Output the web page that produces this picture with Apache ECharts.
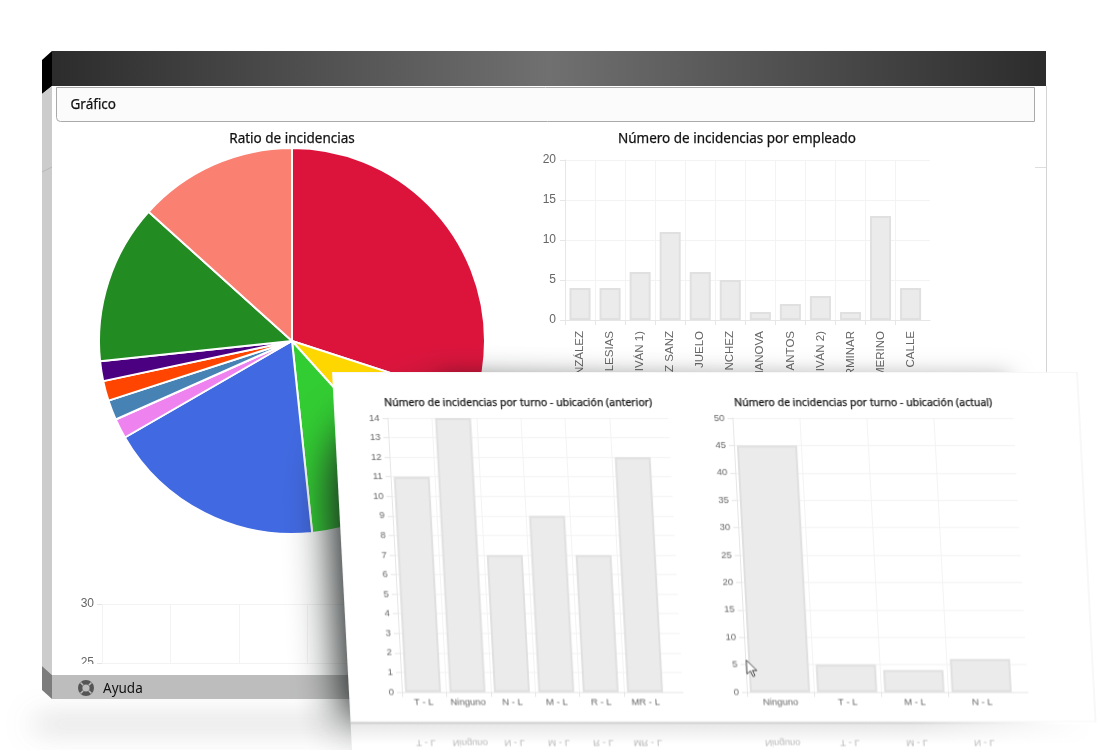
<!DOCTYPE html>
<html><head><meta charset="utf-8">
<script src="https://cdn.jsdelivr.net/npm/echarts@6/dist/echarts.min.js"></script>
<style>
html,body{margin:0;padding:0;background:#fff;overflow:hidden}
#base{position:absolute;left:0;top:0;width:1100px;height:750px}
#panel{position:absolute;left:332px;top:372px;width:768px;height:378px;transform-origin:0 0;transform:skewX(3.03deg)}
</style></head><body>
<div id="base"></div><div id="panel"></div>
<script>
const pieValues = [18, 5, 6, 11, 1, 1, 1, 1, 8, 8];
const pieColors = ['#DC143C','#FFD700','#32CD32','#4169E1','#EE82EE','#4682B4','#FF4500','#4B0082','#228B22','#FA8072'];
const empleados = ['NZÁLEZ','LESIAS','IVÁN 1)','Z SANZ','JUELO','NCHEZ','MANOVA','ANTOS','IVÁN 2)','RMINAR','MERINO','CALLE'];
const empleadoValues = [4, 4, 6, 11, 6, 5, 1, 2, 3, 1, 13, 4];
const anteriorCats = ['T - L','Ninguno','N - L','M - L','R - L','MR - L'];
const anteriorValues = [11, 14, 7, 9, 7, 12];
const actualCats = ['Ninguno','T - L','M - L','N - L'];
const actualValues = [45, 5, 4, 6];
const FONT = '"Noto Sans"', TICKFONT = '"Liberation Sans"';
const GRID = '#f3f3f3', LINE = '#e6e6e6', TICKTXT = '#666';
const heavy = {textBorderColor:'#222', textBorderWidth:0.25};

function addBars(opt, c) {
  const n = c.cats.length, cw = c.catW, fw = cw * n, i = opt.grid.length;
  opt.grid.push({left:c.left, top:c.top, width:c.backW, height:c.height, containLabel:false});
  opt.grid.push({left:c.left - (c.shift||0), top:c.top, width:fw, height:c.height, containLabel:false});
  opt.xAxis.push({gridIndex:i, type:'value', min:0, max:c.backW/cw, silent:true,
    axisLine:{show:true, onZero:false, lineStyle:{color:LINE}},
    axisTick:{show:true, length:5, lineStyle:{color:LINE}, customValues:Array.from({length:n},(_, k)=>k)},
    axisLabel:{show:false}, splitLine:{show:true, lineStyle:{color:GRID}}});
  opt.yAxis.push({gridIndex:i, type:'value', min:0, max:c.max, interval:c.interval, silent:true,
    axisLine:{show:true, lineStyle:{color:LINE}},
    axisTick:{show:true, length:5, lineStyle:{color:LINE}},
    axisLabel:{show:true, color:TICKTXT, fontFamily:TICKFONT, fontSize:c.yfs||c.fs, margin:c.ymargin||8},
    splitLine:{show:true, lineStyle:{color:GRID}}});
  opt.xAxis.push({gridIndex:i+1, type:'category', data:c.cats, silent:true,
    axisLine:{show:false}, axisTick:{show:false}, splitLine:{show:false},
    axisLabel:{show:true, interval:0, color:TICKTXT, fontFamily:TICKFONT, fontSize:c.fs, margin:c.margin, rotate:c.rotate||0}});
  opt.yAxis.push({gridIndex:i+1, type:'value', min:0, max:c.max, show:false});
  opt.series.push({type:'bar', xAxisIndex:i+1, yAxisIndex:i+1, data:c.vals, barWidth:cw-c.gap, z:3, silent:true, clip:false,
    itemStyle:{color:'#ebebeb', borderColor:'#e0e0e0', borderWidth:2}});
  return i+1;
}

/* ---------- base window ---------- */
const baseOpt = {animation:false, grid:[], xAxis:[], yAxis:[], series:[], title:[
  {text:'Ratio de incidencias', left:287, top:127.5, textAlign:'center',
   textStyle:{fontFamily:FONT, fontSize:13.5, fontWeight:'normal', color:'#111', ...heavy}},
  {text:'Número de incidencias por empleado', left:732, top:127.5, textAlign:'center',
   textStyle:{fontFamily:FONT, fontSize:13.5, fontWeight:'normal', color:'#111', ...heavy}}
]};
baseOpt.series.push({type:'pie', center:[292,341], radius:[0,193], startAngle:90, clockwise:true, silent:true,
  label:{show:false}, labelLine:{show:false}, z:2,
  itemStyle:{borderColor:'#fff', borderWidth:2},
  data:pieValues.map((v,i)=>({value:v, itemStyle:{color:pieColors[i]}}))});
addBars(baseOpt, {left:565, top:160, height:160, catW:30.05, backW:365, cats:empleados, vals:empleadoValues,
  max:20, interval:5, fs:11.5, yfs:12, ymargin:9, margin:11, rotate:90, gap:9});
/* partially visible lower chart */
{
  const i = baseOpt.grid.length;
  baseOpt.grid.push({left:102, top:604, width:280, height:59});
  baseOpt.xAxis.push({gridIndex:i, type:'value', min:0, max:280/68.5, silent:true,
    axisLine:{show:false}, axisTick:{show:false, customValues:[0,1,2,3,4]}, axisLabel:{show:false},
    splitLine:{show:true, lineStyle:{color:GRID}}});
  baseOpt.yAxis.push({gridIndex:i, type:'value', min:25, max:30, interval:5, silent:true,
    axisLine:{show:false}, axisTick:{show:true, length:5, lineStyle:{color:LINE}},
    axisLabel:{color:TICKTXT, fontFamily:TICKFONT, fontSize:12, margin:8},
    splitLine:{show:true, lineStyle:{color:GRID}}});
}
/* outline of the panel's cast shadow; drawn off-canvas so only the shadow lands on the page */
const OFF = 1500;
const leftShadow = [[440,395],[345,430],[330,480],[336,600],[344,722],[1000,722],[1000,420]].map(p => [p[0], p[1]-OFF]);
baseOpt.graphic = {elements:[
  {type:'rect', z:-20, shape:{x:52,y:86,width:994,height:589}, style:{fill:'#fff'}},
  {type:'rect', z:-30, shape:{x:35,y:-1000,width:310,height:6}, style:{fill:'#888', shadowBlur:28, shadowOffsetY:1721, shadowColor:'rgba(100,100,100,.6)'}},
  /* header */
  {type:'rect', z:-10, shape:{x:52,y:51,width:994,height:35}, style:{fill:new echarts.graphic.LinearGradient(0,0,1,0,[
    {offset:0,color:'#2c2c2c'},{offset:.5,color:'#707070'},{offset:1,color:'#2c2c2c'}])}},
  {type:'polygon', z:-10, shape:{points:[[42,60],[52,51],[52,86],[42,94]]}, style:{fill:'#000'}},
  {type:'polygon', z:-10, shape:{points:[[42,94],[52,86],[52,675],[42,666]]}, style:{fill:'#cccccc'}},
  {type:'line', z:-9, shape:{x1:42,y1:172,x2:52,y2:167}, style:{stroke:'#b8b8b8',lineWidth:1}},
  {type:'polygon', z:-10, shape:{points:[[42,666],[52,675],[52,699],[42,690]]}, style:{fill:'#7c7c7c'}},
  /* right edge */
  {type:'line', z:-9, shape:{x1:1046.5,y1:86,x2:1046.5,y2:372}, style:{stroke:'#d4d4d4',lineWidth:1}},
  {type:'line', z:-9, shape:{x1:1035,y1:167.5,x2:1046,y2:167.5}, style:{stroke:'#dedede',lineWidth:1}},
  /* Gráfico bar */
  {type:'rect', z:-8, shape:{x:56.5,y:87.5,width:978,height:34,r:[0,0,0,4]}, style:{fill:'#fbfbfb',stroke:'#aaaaaa',lineWidth:1}},
  {type:'text', z:-7, x:70.5, y:105, style:{text:'Gráfico', fontFamily:FONT, fontSize:13.5, fill:'#111', verticalAlign:'middle', stroke:'#222', lineWidth:0.25}},
  /* cover below the partial chart */
  {type:'rect', z:50, shape:{x:52,y:664,width:300,height:11}, style:{fill:'#fff'}},
  /* Ayuda bar */
  {type:'rect', z:51, shape:{x:52,y:675,width:994,height:24}, style:{fill:'#bdbdbd'}},
  {type:'ring', z:52, shape:{cx:86,cy:688,r:8,r0:3.6}, style:{fill:'#555'}},
  {type:'line', z:53, shape:{x1:80.5,y1:682.5,x2:83.2,y2:685.2}, style:{stroke:'#bdbdbd',lineWidth:1.5}},
  {type:'line', z:53, shape:{x1:91.5,y1:682.5,x2:88.8,y2:685.2}, style:{stroke:'#bdbdbd',lineWidth:1.5}},
  {type:'line', z:53, shape:{x1:80.5,y1:693.5,x2:83.2,y2:690.8}, style:{stroke:'#bdbdbd',lineWidth:1.5}},
  {type:'line', z:53, shape:{x1:91.5,y1:693.5,x2:88.8,y2:690.8}, style:{stroke:'#bdbdbd',lineWidth:1.5}},
  {type:'text', z:53, x:103, y:689, style:{text:'Ayuda', fontFamily:FONT, fontSize:13.5, fill:'#111', verticalAlign:'middle'}},
  /* floating panel shadows, the panel covers their casters */
  {type:'rect', z:60, shape:{x:440,y:374,width:570,height:30}, style:{fill:'#ddd', shadowBlur:22, shadowColor:'rgba(0,0,0,.26)'}},
  {type:'polygon', z:61, shape:{points:leftShadow}, style:{fill:'#777', shadowBlur:44, shadowOffsetY:OFF, shadowColor:'rgba(25,30,30,1)'}}
]};
const base = echarts.init(document.getElementById('base'), null, {renderer:'canvas'});
base.setOption(baseOpt);

/* ---------- floating panel ---------- */
const panelOpt = {animation:false, grid:[], xAxis:[], yAxis:[], series:[], title:[
  {text:'Número de incidencias por turno - ubicación (anterior)', left:179.5, top:21, textAlign:'center',
   textStyle:{fontFamily:FONT, fontSize:10.5, fontWeight:'normal', color:'#111', ...heavy}},
  {text:'Número de incidencias por turno - ubicación (actual)', left:524.5, top:21, textAlign:'center',
   textStyle:{fontFamily:FONT, fontSize:10.5, fontWeight:'normal', color:'#111', ...heavy}}
]};
const ax1 = addBars(panelOpt, {left:53, top:46, height:274, catW:44.4, backW:281, cats:anteriorCats, vals:anteriorValues,
  max:14, interval:1, fs:9.5, margin:5, gap:8.5, shift:1});
const ax2 = addBars(panelOpt, {left:398, top:46, height:274, catW:67.2, backW:281, cats:actualCats, vals:actualValues,
  max:50, interval:5, fs:9.5, margin:5, gap:7, shift:0.5});
const panel = echarts.init(document.getElementById('panel'), null, {renderer:'canvas'});
panel.setOption(panelOpt);

const reflected = [];
function addReflection(cats, axisIndex) {
  cats.forEach(c => {
    const px = panel.convertToPixel({xAxisIndex:axisIndex}, c);
    reflected.push({type:'text', z:-3, x:px, y:371, scaleY:-1,
      style:{text:c, fontFamily:TICKFONT, fontSize:9.5, fill:'#b8b8b8', align:'center', verticalAlign:'middle'}});
  });
}
addReflection(anteriorCats, ax1);
addReflection(actualCats, ax2);
panel.setOption({graphic:{elements:[
  {type:'rect', z:-10, shape:{x:-2,y:348,width:770,height:30}, style:{fill:'#fff'}},
  {type:'rect', z:-9, shape:{x:0,y:352,width:745,height:20}, style:{fill:new echarts.graphic.LinearGradient(0,0,0,1,[
    {offset:0,color:'rgba(190,190,190,.35)'},{offset:1,color:'rgba(190,190,190,0)'}])}},
  {type:'rect', z:-8, shape:{x:560,y:350,width:200,height:24}, style:{fill:new echarts.graphic.LinearGradient(0,0,1,0,[
    {offset:0,color:'rgba(255,255,255,0)'},{offset:.9,color:'#fff'},{offset:1,color:'#fff'}])}},
  {type:'rect', z:-7, shape:{x:0,y:0,width:745,height:350}, style:{fill:'#fff', stroke:'#f0f0f0', lineWidth:1}},
  {type:'rect', z:-6, shape:{x:0,y:350,width:745,height:2}, style:{fill:new echarts.graphic.LinearGradient(0,0,1,0,[
    {offset:0,color:'#cfcfcf'},{offset:.75,color:'#d4d4d4'},{offset:.95,color:'#ffffff'},{offset:1,color:'#ffffff'}])}},
  ...reflected,
  {type:'polygon', z:90, x:399, y:288, shape:{points:[[0,0],[0,14],[3.5,11],[6,16.5],[8,15.5],[5.5,10.5],[10,10.5]]},
    style:{fill:'#fff', stroke:'#444', lineWidth:1}}
]}});
</script>
</body></html>
